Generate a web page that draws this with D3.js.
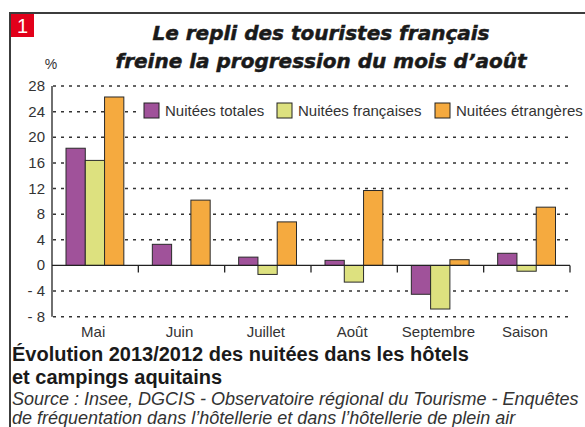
<!DOCTYPE html>
<html>
<head>
<meta charset="utf-8">
<script src="https://cdn.jsdelivr.net/npm/d3@7"></script>
<style>
  body { margin: 0; background: #fff; }
  svg { display: block; }
</style>
</head>
<body>
<div id="chart"></div>
<script>
// Évolution 2013/2012 des nuitées, en %
var categories = ["Mai", "Juin", "Juillet", "Août", "Septembre", "Saison"];
var series = ["Nuitées totales", "Nuitées françaises", "Nuitées étrangères"];
var totales = [18.3, 3.3, 1.3, 0.8, -4.5, 1.9];
var francaises = [16.4, 0, -1.4, -2.6, -6.8, -0.9];
var etrangeres = [26.3, 10.2, 6.8, 11.7, 0.9, 9.1];
var yTicks = [28, 24, 20, 16, 12, 8, 4, 0, -4, -8];

var color = ["#a0529a", "#dde17f", "#f5aa3f"];

var width = 585, height = 427;

var svg = d3.select("#chart")
    .append("svg")
    .attr("width", width)
    .attr("height", height);

var values = [totales, francaises, etrangeres];
var rows = categories.map((c, i) => ({cat: c, vals: values.map(v => v[i])}));

// scales
var x = d3.scaleBand()
    .domain(categories)
    .range([52, 570]);

var x1 = d3.scaleBand()
    .domain(series)
    .range([14, x.bandwidth() - 14.5]);

var y = d3.scaleLinear()
    .domain([-8, 28])
    .range([316.7, 86.1]);

// frame
svg.append("line")
    .attr("x1", 9).attr("x2", 585)
    .attr("y1", 13).attr("y2", 13)
    .attr("stroke", "#3c3c3c").attr("stroke-width", 2);
svg.append("line")
    .attr("x1", 10).attr("x2", 10)
    .attr("y1", 13).attr("y2", 427)
    .attr("stroke", "#3c3c3c").attr("stroke-width", 2);

svg.append("rect")
    .attr("x", 11).attr("y", 14)
    .attr("width", 23).attr("height", 23)
    .attr("fill", "#e2001a");
svg.append("text")
    .attr("x", 22.5).attr("y", 33)
    .attr("text-anchor", "middle")
    .style("font", "20px 'Liberation Sans', Arial, sans-serif")
    .attr("fill", "#fff")
    .text("1");

// title
var title = svg.append("text")
    .attr("text-anchor", "middle")
    .style("font", "italic bold 20px 'DejaVu Sans', sans-serif")
    .attr("fill", "#1a1a1a")
    .attr("stroke", "#1a1a1a")
    .attr("stroke-width", 0.5);
title.append("tspan").attr("x", 321).attr("y", 40).text("Le repli des touristes français");
title.append("tspan").attr("x", 321).attr("y", 68).text("freine la progression du mois d’août");

svg.append("text")
    .attr("x", 51).attr("y", 69)
    .attr("text-anchor", "middle")
    .style("font", "14px 'Liberation Sans', Arial, sans-serif")
    .attr("fill", "#333")
    .text("%");

// dotted grid
svg.append("g")
    .selectAll("line")
    .data(yTicks.filter(d => d != 0))
    .join("line")
    .attr("x1", 53).attr("x2", 572)
    .attr("y1", d => y(d)).attr("y2", d => y(d))
    .attr("stroke", "#333")
    .attr("stroke-width", 1.5)
    .attr("stroke-dasharray", "3,5");

// y axis
svg.append("line")
    .attr("x1", 52).attr("x2", 52)
    .attr("y1", y(28)).attr("y2", y(-8))
    .attr("stroke", "#222").attr("stroke-width", 1.3);

svg.append("g")
    .selectAll("text")
    .data(yTicks)
    .join("text")
    .attr("x", 45)
    .attr("y", d => y(d) + 5)
    .attr("text-anchor", "end")
    .style("font", "15px 'Liberation Sans', Arial, sans-serif")
    .attr("fill", "#333")
    .text(d => d < 0 ? "- " + Math.abs(d) : d);

// legend
svg.append("rect")
    .attr("x", 138).attr("y", 100)
    .attr("width", 444).attr("height", 21)
    .attr("fill", "#fff");

var legendX = [144, 277, 435];
var legend = svg.append("g")
    .selectAll("g")
    .data(series)
    .join("g")
    .attr("transform", (d, i) => "translate(" + legendX[i] + ",103)");
legend.append("rect")
    .attr("width", 15).attr("height", 15)
    .attr("fill", (d, i) => color[i])
    .attr("stroke", "#222").attr("stroke-width", 1);
legend.append("text")
    .attr("x", 21).attr("y", 13)
    .style("font", "15px 'Liberation Sans', Arial, sans-serif")
    .attr("fill", "#333")
    .text(d => d);

// bars
svg.append("g")
    .selectAll("g")
    .data(rows)
    .join("g")
    .attr("transform", d => "translate(" + x(d.cat) + ",0)")
    .selectAll("rect")
    .data(d => d.vals.map((v, i) => ({key: series[i], i: i, v: v})))
    .join("rect")
    .filter(d => d.v != 0)
    .attr("x", d => x1(d.key))
    .attr("width", x1.bandwidth())
    .attr("y", d => y(Math.max(0, d.v)))
    .attr("height", d => Math.abs(y(d.v) - y(0)))
    .attr("fill", d => color[d.i])
    .attr("stroke", "#2a2a2a")
    .attr("stroke-width", 1);

// x axis (zero line with ticks between groups)
svg.append("line")
    .attr("x1", 52).attr("x2", 570)
    .attr("y1", y(0)).attr("y2", y(0))
    .attr("stroke", "#222").attr("stroke-width", 1.3);

var bounds = categories.slice(1).map(c => x(c)).concat([x.range()[1]]);
svg.append("g")
    .selectAll("line")
    .data(bounds)
    .join("line")
    .attr("x1", d => d).attr("x2", d => d)
    .attr("y1", y(0)).attr("y2", y(0) + 7)
    .attr("stroke", "#222").attr("stroke-width", 1.3);

svg.append("g")
    .selectAll("text")
    .data(categories)
    .join("text")
    .attr("x", d => x(d) + x.bandwidth() / 2 - 2)
    .attr("y", 337)
    .attr("text-anchor", "middle")
    .style("font", "15px 'Liberation Sans', Arial, sans-serif")
    .attr("fill", "#333")
    .text(d => d);

// caption
var cap = svg.append("text")
    .style("font", "bold 20px 'Liberation Sans', Arial, sans-serif")
    .attr("fill", "#1a1a1a");
cap.append("tspan").attr("x", 12).attr("y", 361).text("Évolution 2013/2012 des nuitées dans les hôtels");
cap.append("tspan").attr("x", 12).attr("y", 384).text("et campings aquitains");

var src = svg.append("text")
    .style("font", "italic 18px 'Liberation Sans', Arial, sans-serif")
    .attr("fill", "#333");
src.append("tspan").attr("x", 12).attr("y", 405).text("Source : Insee, DGCIS - Observatoire régional du Tourisme - Enquêtes");
src.append("tspan").attr("x", 12).attr("y", 424).text("de fréquentation dans l’hôtellerie et dans l’hôtellerie de plein air");
</script>
</body>
</html>
